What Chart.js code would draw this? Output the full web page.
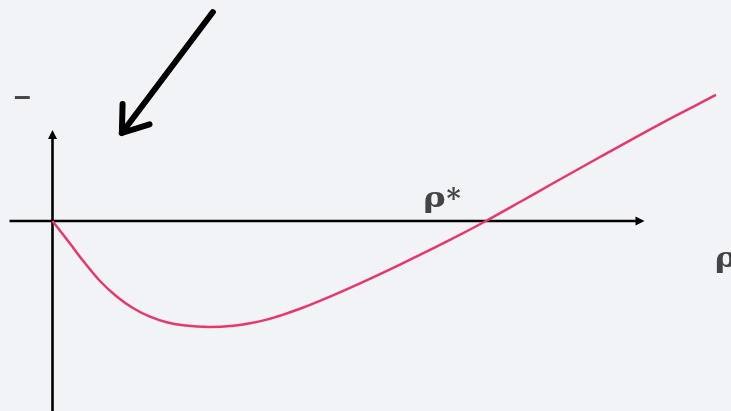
<!DOCTYPE html>
<html>
<head>
<meta charset="utf-8">
<script src="https://cdn.jsdelivr.net/npm/chart.js@4/dist/chart.umd.min.js"></script>
<style>
  html, body { margin: 0; padding: 0; background: #f2f3f7; }
  #wrap { width: 731px; height: 411px; position: relative; }
</style>
</head>
<body>
<div id="wrap"><canvas id="c"></canvas></div>
<script>
// Curve samples: rho (x) against the function value (y); rho* = 1 is the zero crossing
const rhoValues = [0, 0.0404, 0.0710, 0.1096, 0.1481, 0.1864, 0.2249, 0.2634, 0.3017, 0.3633,
  0.4171, 0.4556, 0.4941, 0.5324, 0.5709, 0.6401, 0.7093, 0.8016, 0.9123, 1.0,
  1.0784, 1.1476, 1.2630, 1.4014, 1.5306];
const fValues = [0, -0.0521, -0.0923, -0.1384, -0.1742, -0.2014, -0.2208, -0.2337, -0.2406, -0.2445,
  -0.2415, -0.2360, -0.2275, -0.2159, -0.2025, -0.1744, -0.1439, -0.1006, -0.0461, 0,
  0.0438, 0.0830, 0.1476, 0.2237, 0.2907];

// Visible window of the plane
const xRange = [-0.1211, 1.5652];
const yRange = [-0.4383, 0.5098];

// Axes (in data units)
const xAxisSpan = [-0.0992, 1.3656];
const yAxisSpan = [-0.4383, 0.2099];

// Pointer arrow (tail, head) and text labels, in data units
const pointerArrow = { from: [0.370, 0.482], to: [0.160, 0.203] };
const SERIF = 'bold 27px "DejaVu Serif"';
const textLabels = [
  { text: 'ρ', x: 0.855, y: 0.032, font: SERIF, stretch: 1.25 },
  { text: '*', x: 0.909, y: 0.031, font: SERIF, stretch: 1.0 },
  { text: 'ρ', x: 1.528, y: -0.106, font: SERIF, stretch: 1.25 },
  { text: '–', x: -0.089, y: 0.284, font: 'bold 30px "Liberation Sans"', baseline: 'middle', stretch: 1 }
];

const points = rhoValues.map((r, i) => ({ x: r, y: fValues[i] }));

const backdrop = {
  id: 'backdrop',
  beforeDraw(chart) {
    const ctx = chart.ctx;
    ctx.save();
    ctx.fillStyle = '#f2f3f7';
    ctx.fillRect(0, 0, chart.width, chart.height);
    ctx.restore();
  }
};

function px(chart, x, y) {
  return [chart.scales.x.getPixelForValue(x), chart.scales.y.getPixelForValue(y)];
}

const axesPlugin = {
  id: 'axesPlugin',
  beforeDatasetsDraw(chart) {
    const ctx = chart.ctx;
    ctx.save();
    ctx.strokeStyle = '#000';
    ctx.fillStyle = '#000';
    ctx.lineWidth = 2.6;
    // x axis
    const [x0, yz] = px(chart, xAxisSpan[0], 0);
    const [x1] = px(chart, xAxisSpan[1], 0);
    ctx.beginPath();
    ctx.moveTo(x0, yz);
    ctx.lineTo(x1 - 6, yz);
    ctx.stroke();
    ctx.beginPath();
    ctx.moveTo(x1, yz);
    ctx.lineTo(x1 - 9, yz - 4.5);
    ctx.lineTo(x1 - 9, yz + 4.5);
    ctx.closePath();
    ctx.fill();
    // y axis
    const [xz, yb] = px(chart, 0, yAxisSpan[0]);
    const [, yt] = px(chart, 0, yAxisSpan[1]);
    ctx.beginPath();
    ctx.moveTo(xz, yb);
    ctx.lineTo(xz, yt + 6);
    ctx.stroke();
    ctx.beginPath();
    ctx.moveTo(xz, yt);
    ctx.lineTo(xz - 4.5, yt + 9);
    ctx.lineTo(xz + 4.5, yt + 9);
    ctx.closePath();
    ctx.fill();
    ctx.restore();
  },
  afterDraw(chart) {
    const ctx = chart.ctx;
    ctx.save();
    // pointer arrow
    const [ax, ay] = px(chart, pointerArrow.from[0], pointerArrow.from[1]);
    const [bx, by] = px(chart, pointerArrow.to[0], pointerArrow.to[1]);
    ctx.strokeStyle = '#000';
    ctx.lineWidth = 6;
    ctx.lineCap = 'round';
    ctx.lineJoin = 'round';
    ctx.beginPath();
    ctx.moveTo(ax, ay);
    ctx.lineTo(bx, by);
    ctx.stroke();
    const ang = Math.atan2(ay - by, ax - bx);
    const headLen = 29, spread = 0.62;
    ctx.beginPath();
    ctx.moveTo(bx + headLen * Math.cos(ang - spread), by + headLen * Math.sin(ang - spread));
    ctx.lineTo(bx, by);
    ctx.lineTo(bx + headLen * Math.cos(ang + spread), by + headLen * Math.sin(ang + spread));
    ctx.stroke();
    // labels
    ctx.fillStyle = '#444444';
    ctx.textAlign = 'left';
    textLabels.forEach(l => {
      const [lx, ly] = px(chart, l.x, l.y);
      ctx.save();
      ctx.font = l.font;
      ctx.textBaseline = l.baseline || 'alphabetic';
      ctx.translate(lx, ly);
      ctx.scale(l.stretch, 1);
      ctx.fillText(l.text, 0, 0);
      ctx.restore();
    });
    ctx.restore();
  }
};

function build() {
  new Chart(document.getElementById('c'), {
    type: 'line',
    data: {
      datasets: [{
        data: points,
        borderColor: '#e8386b',
        borderWidth: 2.5,
        pointRadius: 0,
        fill: false,
        cubicInterpolationMode: 'monotone'
      }]
    },
    options: {
      responsive: true,
      maintainAspectRatio: false,
      animation: false,
      layout: { padding: 0 },
      plugins: { legend: { display: false }, tooltip: { enabled: false } },
      scales: {
        x: { type: 'linear', min: xRange[0], max: xRange[1], display: false },
        y: { type: 'linear', min: yRange[0], max: yRange[1], display: false }
      }
    },
    plugins: [backdrop, axesPlugin]
  });
}

Promise.all([
  document.fonts.load(SERIF, 'ρ*'),
  document.fonts.load('bold 30px "Liberation Sans"', '–')
]).then(build, build);
</script>
</body>
</html>
